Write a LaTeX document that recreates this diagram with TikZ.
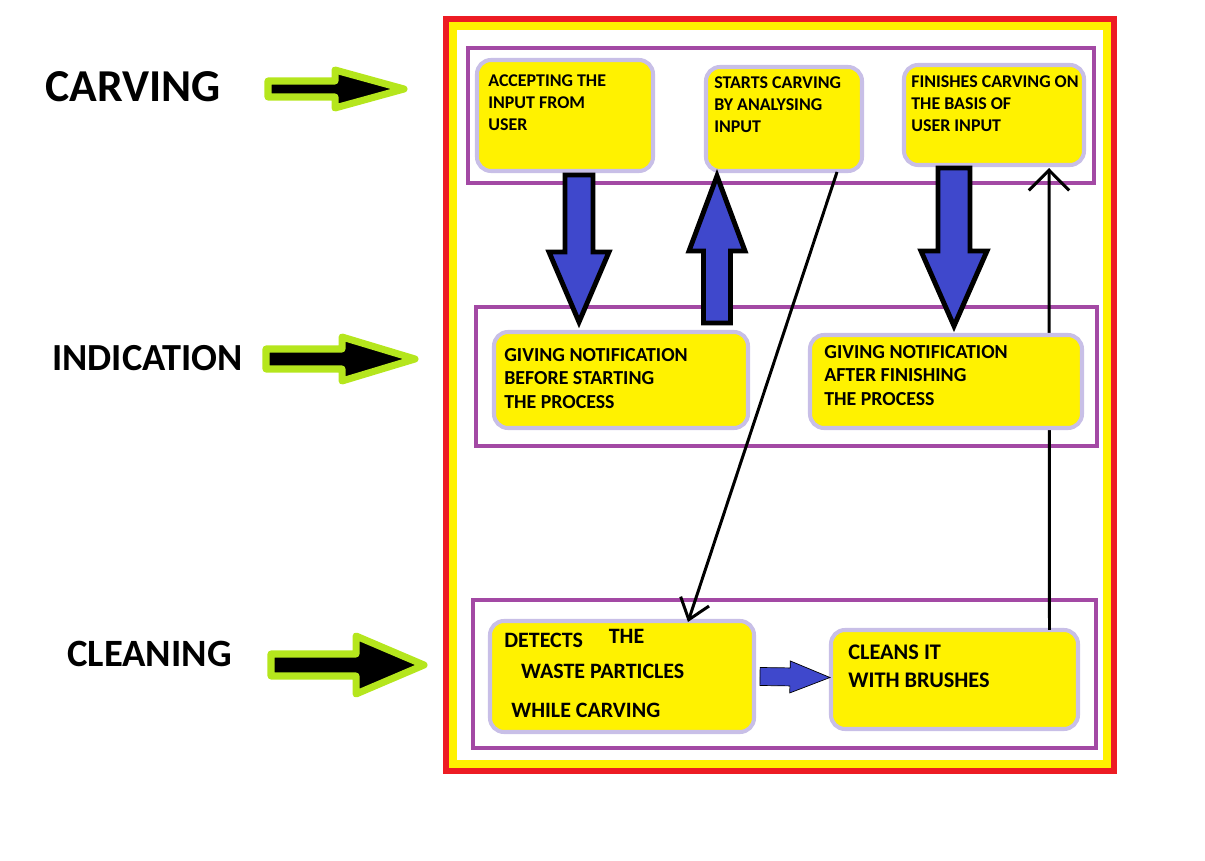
\documentclass[tikz,border=0pt]{standalone}
\usepackage{fontspec}
\setmainfont{Carlito}
\usetikzlibrary{arrows.meta, positioning, calc, fit}

\definecolor{paintred}{HTML}{ED1C24}
\definecolor{paintyellow}{HTML}{FFF200}
\definecolor{paintpurple}{HTML}{A349A4}
\definecolor{lavender}{HTML}{C8BFE7}
\definecolor{paintblue}{HTML}{3F48CC}
\definecolor{lime}{HTML}{B5E61D}

% block arrow: style, tail, tip, shaft half width, head half width, head length
\newcommand{\blockarrow}[6]{%
  \coordinate (tail) at (#2);
  \coordinate (tip) at (#3);
  \coordinate (headbase) at ($(tip)!#6!(tail)$);
  \draw[#1] ($(tail)!#4!90:(tip)$) -- ($(headbase)!#4!90:(tip)$)
    -- ($(headbase)!#5!90:(tip)$) -- (tip)
    -- ($(headbase)!#5!-90:(tip)$) -- ($(headbase)!#4!-90:(tip)$)
    -- ($(tail)!#4!-90:(tip)$) -- cycle;
}

\begin{document}
\begin{tikzpicture}[
    x=0.02cm, y=-0.02cm,
    groupbox/.style={
        draw=paintpurple,
        line width=2.3pt,
    },
    stepbox/.style={
        draw=lavender,
        fill=paintyellow,
        line width=2.3pt,
        rounded corners=0.28cm,
        inner sep=0pt,
        outer sep=0pt,
    },
    toptext/.style={
        font=\bfseries\fontsize{10.2pt}{12.5pt}\selectfont,
        align=left,
        inner sep=0pt,
    },
    midtext/.style={
        toptext,
        font=\bfseries\fontsize{11.3pt}{13.3pt}\selectfont,
    },
    sidelabel/.style={
        anchor=base west,
        inner sep=0pt,
    },
    pointer/.style={
        draw=lime,
        fill=black,
        line width=4pt,
        line join=round,
    },
    flow/.style={
        draw=black,
        fill=paintblue,
        line width=2.8pt,
    },
    flowplain/.style={
        fill=paintblue,
    },
    link/.style={
        line width=1.7pt,
    }
]
    \useasboundingbox (0,0) rectangle (1205,861);

    % Outer frame
    \draw[paintred, line width=3.4pt] (446,19) rectangle (1114,771);
    \draw[paintyellow, line width=4.5pt] (453,26) rectangle (1107,764);

    % Rows
    \draw[groupbox] (468,48) rectangle (1094,183);
    \draw[groupbox] (476,307) rectangle (1097,446);
    \draw[groupbox] (473,600) rectangle (1096,748);

    % Side labels
    \node[sidelabel, font=\bfseries\fontsize{26pt}{30pt}\selectfont] (carving) at (45,102) {CARVING};
    \node[sidelabel, font=\bfseries\fontsize{21.8pt}{26pt}\selectfont] (indication) at (52,371) {INDICATION};
    \node[sidelabel, font=\bfseries\fontsize{22pt}{26pt}\selectfont] (cleaning) at (67,667) {CLEANING};

    % Side arrows
    \coordinate (carvetail) at (268,89);
    \coordinate (carvehead) at (404,89);
    \coordinate (indtail) at (266,359);
    \coordinate (indhead) at (415,359);
    \coordinate (cleantail) at (271,665);
    \coordinate (cleanhead) at (424,665);
    \blockarrow{pointer}{carvetail}{carvehead}{0.16cm}{0.38cm}{1.38cm}
    \blockarrow{pointer}{indtail}{indhead}{0.2cm}{0.44cm}{1.46cm}
    \blockarrow{pointer}{cleantail}{cleanhead}{0.22cm}{0.58cm}{1.36cm}

    % Steps
    \node[stepbox, fit={(477,60) (653,171)}] (accept) {};
    \node[stepbox, fit={(706,67) (862,171)}] (startcarve) {};
    \node[stepbox, fit={(904,65) (1084,165)}] (finish) {};
    \node[stepbox, fit={(490,621) (754,732)}] (detect) {};
    \node[stepbox, fit={(831,630) (1078,729)}] (cleanit) {};

    % Return line (runs under the notification box)
    \draw[link, -{Straight Barb[length=11.6pt, width=23pt]}] ($(cleanit.north)+(95,0)$) -- ($(finish.south)+(55,3)$);

    \node[stepbox, fit={(494,332) (748,428)}] (notifybefore) {};
    \node[stepbox, fit={(810,335) (1082,428)}] (notifyafter) {};

    % Step texts
    \node[toptext, below right=0.28cm and 0.22cm of accept.north west] (accepttext) {ACCEPTING THE\\INPUT FROM\\USER};
    \node[toptext, below right=0.18cm and 0.16cm of startcarve.north west] (starttext) {STARTS CARVING\\BY ANALYSING\\INPUT};
    \node[toptext, below right=0.2cm and 0.14cm of finish.north west] (finishtext) {FINISHES CARVING ON\\THE BASIS OF\\USER INPUT};
    \node[midtext, below right=0.32cm and 0.2cm of notifybefore.north west] (beforetext) {GIVING NOTIFICATION\\BEFORE STARTING\\THE PROCESS};
    \node[midtext, below right=0.2cm and 0.28cm of notifyafter.north west] (aftertext) {GIVING NOTIFICATION\\AFTER FINISHING\\THE PROCESS};
    \node[toptext, font=\bfseries\fontsize{12.5pt}{17.6pt}\selectfont, below right=0.16cm and 0.28cm of detect.north west] (detecttext)
        {DETECTS\hspace*{14.7pt}\raisebox{2.3pt}{THE}\\\hspace*{9.6pt}WASTE PARTICLES\\[4.5pt]\hspace*{4pt}WHILE CARVING};
    \node[toptext, font=\bfseries\fontsize{12.7pt}{15.9pt}\selectfont, below right=0.3cm and 0.34cm of cleanit.north west] (cleantext) {CLEANS IT\\WITH BRUSHES};

    % Block arrows
    \blockarrow{flow}{$(accept.south)+(14,4)$}{$(notifybefore.north)+(-42,-10)$}{0.28cm}{0.6cm}{1.4cm}
    \blockarrow{flow}{$(notifybefore.north)+(96,-9)$}{$(startcarve.south)+(-67,5)$}{0.27cm}{0.56cm}{1.5cm}
    \blockarrow{flow}{$(finish.south)+(-40,3)$}{$(notifyafter.north)+(8,-9)$}{0.32cm}{0.66cm}{1.5cm}
    \blockarrow{flowplain}{$(detect.east)+(6,0)$}{$(cleanit.west)+(-1,-2)$}{0.18cm}{0.32cm}{0.8cm}

    % Carving to cleaning
    \draw[link, -{Straight Barb[length=11pt, width=17pt]}] ($(startcarve.south)+(53,1)$) -- ($(detect.north)+(66,1)$);
\end{tikzpicture}
\end{document}
